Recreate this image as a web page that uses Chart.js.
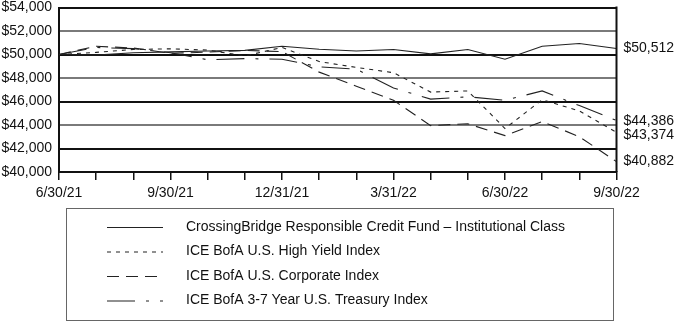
<!DOCTYPE html>
<html>
<head>
<meta charset="utf-8">
<script src="https://cdn.jsdelivr.net/npm/chart.js@4"></script>
<style>
  html, body { margin: 0; padding: 0; background: #fff; }
  #wrap { width: 675px; height: 325px; }
</style>
</head>
<body>
<div id="wrap"><canvas id="growth-chart" width="675" height="325"></canvas></div>
<script>
// month-end dates, growth of $50,000
const months = ["6/30/21", "7/31/21", "8/31/21", "9/30/21", "10/31/21", "11/30/21", "12/31/21",
  "1/31/22", "2/28/22", "3/31/22", "4/30/22", "5/31/22", "6/30/22", "7/31/22", "8/31/22", "9/30/22"];

const fund = [50000, 49950, 50150, 50220, 50300, 50350, 50700, 50450, 50300, 50425, 50050, 50425, 49600, 50700, 50935, 50512];
const highYield = [50000, 50180, 50430, 50480, 50380, 49880, 50600, 49400, 48900, 48450, 46800, 46900, 43700, 46150, 45200, 43374];
const corporate = [50000, 50700, 50550, 50100, 50200, 50350, 50250, 48500, 47300, 46100, 43950, 44100, 43100, 44300, 43000, 40882];
const treasury = [50000, 50600, 50500, 50150, 49550, 49650, 49600, 48950, 48750, 47150, 46200, 46400, 46100, 46900, 45650, 44386];

const seriesNames = [
  "CrossingBridge Responsible Credit Fund \u2013 Institutional Class",
  "ICE BofA U.S. High Yield Index",
  "ICE BofA U.S. Corporate Index",
  "ICE BofA 3-7 Year U.S. Treasury Index",
];

const yTicks = [40000, 42000, 44000, 46000, 48000, 50000, 52000, 54000];

const FONT = '"Liberation Sans", Arial, Helvetica, sans-serif';
const money = v => "$" + v.toLocaleString("en-US");

function series(label, data, dash) {
  return {
    label: label,
    data: data,
    borderColor: "#222",
    borderWidth: 1.1,
    borderDash: dash,
    pointRadius: 0,
    tension: 0,
    fill: false,
  };
}

// right frame, end value labels and boxed legend
const extras = {
  id: "extras",
  afterDraw(chart) {
    const ctx = chart.ctx;
    const area = chart.chartArea;
    const y = chart.scales.y;
    ctx.save();

    ctx.strokeStyle = "#111";
    ctx.lineWidth = 2;
    ctx.beginPath();
    ctx.moveTo(area.right, area.top - 1);
    ctx.lineTo(area.right, area.bottom);
    ctx.stroke();

    ctx.fillStyle = "#111";
    ctx.font = "14px " + FONT;
    ctx.textAlign = "left";
    ctx.textBaseline = "middle";
    const ends = [
      [fund[fund.length - 1], 0],
      [treasury[treasury.length - 1], 1],
      [highYield[highYield.length - 1], 3],
      [corporate[corporate.length - 1], 0],
    ];
    ends.forEach(([v, nudge]) => {
      ctx.fillText(money(v), area.right + 7, y.getPixelForValue(v) + nudge);
    });

    // legend box
    ctx.strokeStyle = "#666";
    ctx.lineWidth = 1;
    ctx.strokeRect(66.5, 208.5, 547, 112);
    chart.data.datasets.forEach((ds, i) => {
      const ry = 227 + i * 24.5;
      ctx.strokeStyle = "#222";
      ctx.lineWidth = 1.1;
      ctx.setLineDash(ds.borderDash || []);
      ctx.beginPath();
      ctx.moveTo(107, ry + 0.5);
      ctx.lineTo(163, ry + 0.5);
      ctx.stroke();
      ctx.setLineDash([]);
      ctx.fillStyle = "#111";
      ctx.fillText(ds.label, 186, ry);
    });
    ctx.restore();
  },
};

const config = {
  type: "line",
  data: {
    labels: months,
    datasets: [
      series(seriesNames[0], fund, []),
      series(seriesNames[1], highYield, [4, 5]),
      series(seriesNames[2], corporate, [12, 7]),
      series(seriesNames[3], treasury, [28, 11, 3, 11]),
    ],
  },
  options: {
    responsive: false,
    devicePixelRatio: 1,
    animation: false,
    layout: { padding: { left: 0, top: 0, right: 58.5, bottom: 0 } },
    plugins: {
      legend: { display: false },
      tooltip: { enabled: false },
    },
    scales: {
      x: {
        afterFit: scale => { scale.height = 153; },
        grid: {
          drawOnChartArea: false,
          drawTicks: true,
          tickLength: 8,
          color: "#111",
          lineWidth: 1.5,
        },
        border: { display: true, color: "#111", width: 2 },
        ticks: {
          autoSkip: false,
          maxRotation: 0,
          padding: 5,
          color: "#111",
          font: { family: FONT, size: 14 },
          callback: function (value, index) {
            return index % 3 === 0 ? this.getLabelForValue(value) : "";
          },
        },
      },
      y: {
        min: yTicks[0],
        max: yTicks[yTicks.length - 1],
        afterFit: scale => {
          scale.width = 59;
          scale.paddingTop = 7.5;
          scale.paddingBottom = 0;
        },
        afterBuildTicks: scale => { scale.ticks = yTicks.map(v => ({ value: v })); },
        grid: {
          drawTicks: false,
          lineWidth: 2,
          color: c => {
            const idx = (c.tick.value - yTicks[0]) / 2000;
            return idx > 0 && idx % 2 === 0 ? "#7a7a7a" : "#111";
          },
        },
        border: { display: true, color: "#111", width: 2 },
        ticks: {
          padding: 7,
          color: "#111",
          font: { family: FONT, size: 14 },
          callback: v => money(v),
        },
      },
    },
  },
  plugins: [extras],
};

const growthChart = new Chart(document.getElementById("growth-chart"), config);
</script>
</body>
</html>
